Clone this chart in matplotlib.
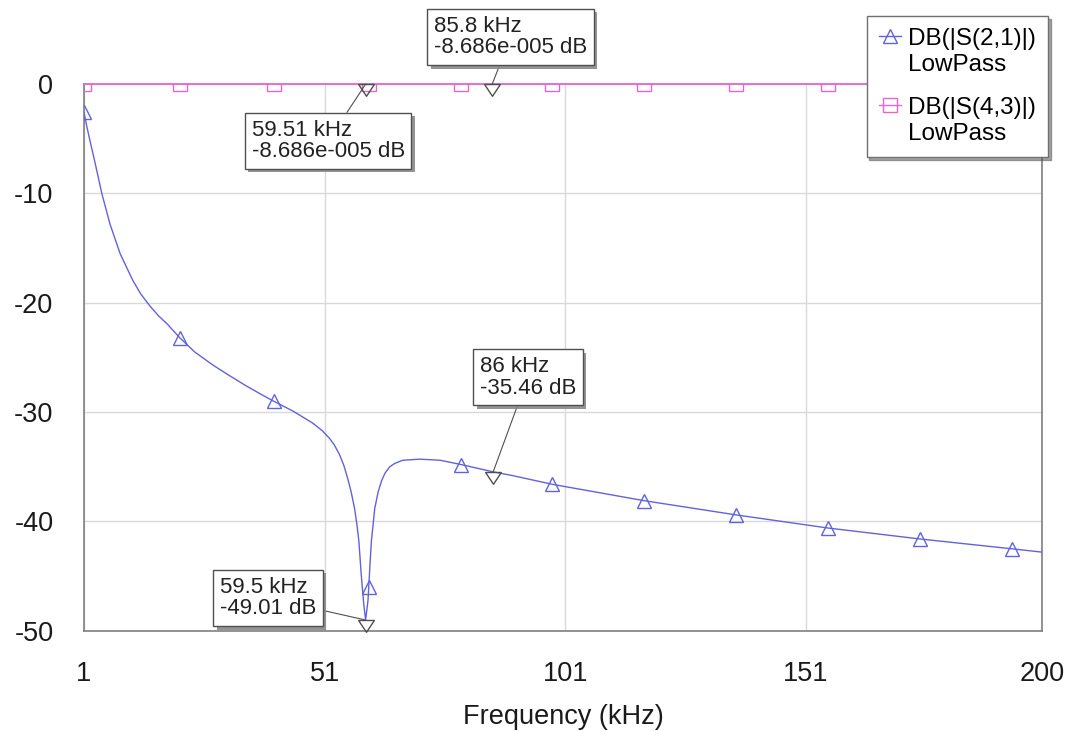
import matplotlib
matplotlib.use("Agg")
import matplotlib.pyplot as plt
import matplotlib.patheffects as pe
from matplotlib.lines import Line2D
from matplotlib.path import Path
from matplotlib.legend_handler import HandlerLine2D

plt.rcParams["font.family"] = ["Liberation Sans", "DejaVu Sans"]
plt.rcParams["axes.unicode_minus"] = False

# DB(|S(2,1)|) trace (kHz, dB)
freq = [1, 1.6, 2.2, 3.3, 4.7, 6.4, 8.5, 10.0, 11.2, 12.8, 14.7, 16.5, 18.2,
        20.9, 24.0, 27.8, 31.0, 34.7, 37.5, 40.4, 44.4, 48.5, 50.5, 52, 53,
        54.1, 55.0, 55.8, 56.5, 57.2, 57.7, 58.1, 58.6, 59.1, 59.5, 60.0,
        60.4, 60.7, 61.4, 62.1, 62.8, 63.5, 64.5, 65.5, 67.2, 70.7, 75, 79.4,
        86, 90, 98.3, 117.4, 136.5, 155.6, 174.7, 193.8, 200]
s21_db = [-2.6, -3.9, -5.1, -7.2, -10.0, -12.8, -15.5, -16.9, -18.0, -19.2,
          -20.3, -21.2, -21.9, -23.2, -24.5, -25.7, -26.6, -27.6, -28.3, -29.0,
          -29.9, -31.0, -31.7, -32.4, -33.0, -33.9, -34.9, -36.1, -37.3,
          -38.8, -40.3, -41.8, -44.9, -47.5, -49.01, -47.2, -44.0, -41.8,
          -38.8, -37.3, -36.3, -35.6, -35.0, -34.7, -34.4, -34.3, -34.4,
          -34.8, -35.46, -35.8, -36.6, -38.1, -39.4, -40.6, -41.6, -42.5,
          -42.8]

# symbol positions on the traces
mark_freq = [1, 20.9, 40.4, 60.1, 79.4, 98.3, 117.4, 136.5, 155.6, 174.7, 193.8]
s21_mark_db = [-2.6, -23.2, -29.0, -46.0, -34.8, -36.6, -38.1, -39.4, -40.6,
               -41.6, -42.5]

# DB(|S(4,3)|) trace: flat line
s43_freq = [1, 200]
s43_db = [-8.686e-5, -8.686e-5]
s43_mark_db = [-8.686e-5] * len(mark_freq)

# marker readouts
marker_freq = [59.51, 85.8, 86, 59.5]
marker_db = [-8.686e-5, -8.686e-5, -35.46, -49.01]
marker_text = ["59.51 kHz\n-8.686e-005 dB", "85.8 kHz\n-8.686e-005 dB",
               "86 kHz\n-35.46 dB", "59.5 kHz\n-49.01 dB"]
marker_text_pos = [(35.8, -5.2), (73.7, 4.3), (83.2, -26.8), (29.2, -47.0)]

x_ticks = [1, 51, 101, 151, 200]
y_ticks = [0, -10, -20, -30, -40, -50]

blue = "#6262dc"
pink = "#e466d0"


class UpperHandler(HandlerLine2D):
    # put the legend symbol next to the first line of a two-line label
    def create_artists(self, legend, orig_handle, xdescent, ydescent,
                       width, height, fontsize, trans):
        return super().create_artists(legend, orig_handle, xdescent,
                                      ydescent - 1.3 * fontsize, width,
                                      height, fontsize, trans)


fig = plt.figure(figsize=(10.74, 7.31), dpi=100)
ax = fig.add_axes([0.0782, 0.137, 0.892, 0.748])

ax.plot(freq, s21_db, color=blue, lw=1.0, zorder=3)
ax.plot(mark_freq, s21_mark_db, ls="none", marker="^", ms=10, mfc="none",
        mec=blue, mew=1.0, zorder=4)
ax.plot(s43_freq, s43_db, color=pink, lw=1.3, zorder=3, clip_on=False)
ax.plot(mark_freq, s43_mark_db, ls="none", marker="s", ms=10, mfc="none",
        mec=pink, mew=1.0, zorder=4)

# data markers: hollow down-pointing triangles hanging from the point
tri = Path([(-1, 0), (1, 0), (0, -1.5), (-1, 0)],
           [Path.MOVETO, Path.LINETO, Path.LINETO, Path.CLOSEPOLY])
ax.plot(marker_freq, marker_db, ls="none", marker=tri, ms=17, mfc="none",
        mec="#505050", mew=1.0, zorder=5, clip_on=False)

for f, db, txt, pos in zip(marker_freq, marker_db, marker_text, marker_text_pos):
    ann = ax.annotate(
        txt, xy=(f, db), xytext=pos, textcoords="data",
        ha="left", va="center", fontsize=16, linespacing=1.05,
        color="#222222", annotation_clip=False, zorder=6,
        bbox=dict(boxstyle="square,pad=0.3", fc="white", ec="#505050", lw=1.0),
        arrowprops=dict(arrowstyle="-", color="#505050", lw=0.8,
                        shrinkA=0, shrinkB=0),
    )
    ann.get_bbox_patch().set_path_effects(
        [pe.SimplePatchShadow(offset=(2.5, -2.5), shadow_rgbFace="#888888",
                              alpha=0.9), pe.Normal()])

ax.set_xlim(1, 200)
ax.set_ylim(-50, 0)
ax.set_xticks(x_ticks)
ax.set_xticklabels([str(t) for t in x_ticks])
ax.set_yticks(y_ticks)
ax.tick_params(length=0, labelsize=19.5, labelcolor="#1a1a1a")
ax.tick_params(axis="y", pad=22)
ax.tick_params(axis="x", pad=22)
ax.grid(True, color="#d9d9d9", lw=1.0)
ax.set_axisbelow(True)
for side in ["left", "bottom", "right"]:
    ax.spines[side].set_color("#808080")
    ax.spines[side].set_linewidth(1.2)
ax.spines["top"].set_visible(False)
ax.set_xlabel("Frequency (kHz)", fontsize=19.5, color="#1a1a1a", labelpad=12)

handles = [
    Line2D([], [], color=blue, lw=1.0, marker="^", ms=10, mfc="none", mec=blue),
    Line2D([], [], color=pink, lw=1.0, marker="s", ms=10, mfc="none", mec=pink),
]
labels = ["DB(|S(2,1)|)\nLowPass", "DB(|S(4,3)|)\nLowPass"]
leg = fig.legend(handles, labels, loc="upper right",
                 bbox_to_anchor=(1048 / 1074, 1 - 16 / 731), borderaxespad=0,
                 fontsize=17.5, handlelength=0.9, handletextpad=0.3,
                 borderpad=0.5, labelspacing=0.9, fancybox=False,
                 shadow=True, framealpha=1, edgecolor="#707070",
                 handler_map={Line2D: UpperHandler()})
leg.get_frame().set_linewidth(1.0)
leg.set_zorder(10)

fig.savefig("out.png", dpi=100)
